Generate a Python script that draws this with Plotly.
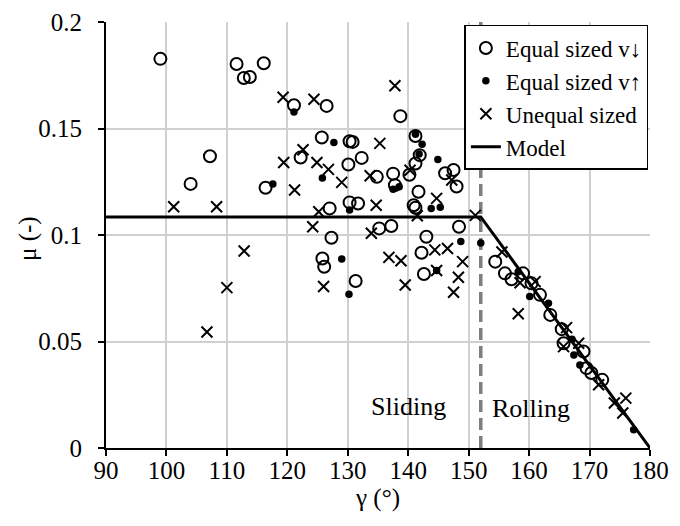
import plotly.graph_objects as go

# Friction coefficient mu versus contact angle gamma

# Equal sized particles, v down
eq_down_gamma = [99.0, 111.6, 112.8, 113.8, 116.1, 121.1, 126.5, 138.7, 107.2, 104.0,
                 116.4, 125.7, 130.3, 130.8, 141.2, 122.2, 130.1, 132.3, 134.8, 137.5,
                 137.8, 140.2, 141.2, 141.9, 146.1, 147.5, 148.0, 141.7, 140.9, 141.2,
                 127.0, 130.3, 131.7, 127.3, 135.2, 137.2, 143.0, 148.4, 125.8, 126.1,
                 131.3, 142.2, 142.6,
                 154.4, 156.0, 157.1, 159.0, 160.4, 161.8, 163.5, 165.4, 165.7, 169.0,
                 169.5, 170.3, 172.1]
eq_down_mu = [0.1827, 0.1803, 0.1737, 0.1742, 0.1806, 0.1609, 0.1606, 0.1558, 0.1370, 0.1240,
              0.1222, 0.1458, 0.1440, 0.1437, 0.1465, 0.1364, 0.1331, 0.1362, 0.1273, 0.1288,
              0.1234, 0.1283, 0.1336, 0.1375, 0.1290, 0.1305, 0.1228, 0.1203, 0.1140, 0.1128,
              0.1125, 0.1153, 0.1148, 0.0987, 0.1031, 0.1042, 0.0992, 0.1039, 0.0890, 0.0851,
              0.0784, 0.0917, 0.0817,
              0.0875, 0.0820, 0.0792, 0.0820, 0.0773, 0.0719, 0.0625, 0.0558, 0.0492, 0.0453,
              0.0375, 0.0352, 0.0320]

# Equal sized particles, v up
eq_up_gamma = [117.6, 121.1, 127.7, 141.2, 142.3, 141.8, 125.8, 137.5, 138.5, 144.9,
               143.8, 145.3, 130.3, 148.7, 129.0, 130.2, 144.7, 152.0,
               158.2, 160.1, 163.2, 167.1, 167.4, 168.4, 177.3]
eq_up_mu = [0.1240, 0.1578, 0.1434, 0.1473, 0.1426, 0.1380, 0.1268, 0.1215, 0.1226, 0.1355,
            0.1125, 0.1130, 0.1117, 0.0969, 0.0887, 0.0722, 0.0833, 0.0963,
            0.0828, 0.0711, 0.0680, 0.0511, 0.0437, 0.0390, 0.0086]

# Unequal sized particles
uneq_gamma = [119.3, 124.4, 137.8, 119.4, 122.6, 124.9, 126.8, 135.3, 121.2, 129.0,
              133.7, 140.3, 147.2, 144.7, 141.5, 125.2, 134.7, 124.2, 133.9, 101.2,
              108.3, 112.85, 110.0, 106.7, 126.0, 136.8, 138.8, 139.5, 144.4, 146.5,
              144.7, 149.0, 148.3, 147.5, 151.1,
              155.5, 158.5, 161.0, 158.2, 166.2, 168.2, 165.7, 171.5, 174.1, 176.0, 175.5]
uneq_mu = [0.1647, 0.1637, 0.1701, 0.1340, 0.1400, 0.1340, 0.1308, 0.1430, 0.1211, 0.1247,
           0.1278, 0.1304, 0.1258, 0.1172, 0.1090, 0.1109, 0.1140, 0.1039, 0.1008, 0.1133,
           0.1133, 0.0925, 0.0753, 0.0545, 0.0758, 0.0895, 0.0879, 0.0765, 0.0930, 0.0937,
           0.0833, 0.0875, 0.0802, 0.0731, 0.1092,
           0.0920, 0.0776, 0.0781, 0.0630, 0.0565, 0.0492, 0.0476, 0.0297, 0.0211, 0.0234, 0.0164]

# Model: constant sliding friction, then linear drop in the rolling regime
model_gamma = [90, 152, 180]
model_mu = [0.1085, 0.1085, 0.0]

# Sliding / rolling transition
transition_gamma = 152
regime_labels = ["Sliding", "Rolling"]
regime_gamma = [140.0, 160.3]
regime_mu = [0.0195, 0.0185]

x_ticks = list(range(90, 181, 10))
y_ticks = [0, 0.05, 0.1, 0.15, 0.2]

FONT = "Liberation Serif, Times New Roman, serif"

fig = go.Figure()

fig.add_trace(go.Scatter(
    x=[transition_gamma, transition_gamma], y=[y_ticks[0], y_ticks[-1]],
    mode="lines", line=dict(color="#7f7f7f", width=3.5, dash="12px,6px"),
    showlegend=False, hoverinfo="skip"))

fig.add_trace(go.Scatter(
    x=eq_down_gamma, y=eq_down_mu, mode="markers", name="Equal sized v↓",
    marker=dict(symbol="circle-open", size=12, color="black", line=dict(width=2, color="black"))))

fig.add_trace(go.Scatter(
    x=eq_up_gamma, y=eq_up_mu, mode="markers", name="Equal sized v↑",
    marker=dict(symbol="circle", size=7.5, color="black")))

fig.add_trace(go.Scatter(
    x=uneq_gamma, y=uneq_mu, mode="markers", name="Unequal sized",
    marker=dict(symbol="x-thin-open", size=11, color="black", line=dict(width=2, color="black"))))

fig.add_trace(go.Scatter(
    x=model_gamma, y=model_mu, mode="lines", name="Model",
    line=dict(color="black", width=3)))

for label, gx, my in zip(regime_labels, regime_gamma, regime_mu):
    fig.add_annotation(x=gx, y=my, text=label, showarrow=False,
                       font=dict(family=FONT, size=26, color="black"))

# y-axis title placed beside the tick labels
fig.add_annotation(x=0, y=0.5, xref="paper", yref="paper", xshift=-78, yshift=-4,
                   text="μ (-)", textangle=-90, showarrow=False,
                   xanchor="center", yanchor="middle",
                   font=dict(family=FONT, size=25, color="black"))

axis_common = dict(
    showgrid=True, gridcolor="#d0d0d0", gridwidth=1.5,
    showline=True, linecolor="black", linewidth=2,
    ticks="outside", ticklen=6, tickwidth=1.5, tickcolor="black",
    zeroline=False, automargin=False,
    tickfont=dict(family=FONT, size=25, color="black"),
)

fig.update_xaxes(
    range=[90, 180], tickvals=x_ticks, ticktext=[str(v) for v in x_ticks],
    ticklabelstandoff=-7,
    title=dict(text="γ (°)", font=dict(family=FONT, size=25, color="black"), standoff=4),
    **axis_common)
fig.update_yaxes(
    range=[0, 0.2], tickvals=y_ticks, ticktext=["0", "0.05", "0.1", "0.15", "0.2"],
    ticklabelstandoff=11,
    **axis_common)

fig.update_layout(
    width=680, height=526,
    margin=dict(l=106, r=30, t=22, b=78),
    paper_bgcolor="white", plot_bgcolor="white",
    font=dict(family=FONT, color="black"),
    legend=dict(
        x=0.997, y=0.993, xanchor="right", yanchor="top",
        bgcolor="white", bordercolor="black", borderwidth=1.5,
        font=dict(family=FONT, size=23, color="black"),
        tracegroupgap=0, itemwidth=30,
    ),
)

fig.write_html("out.html")
